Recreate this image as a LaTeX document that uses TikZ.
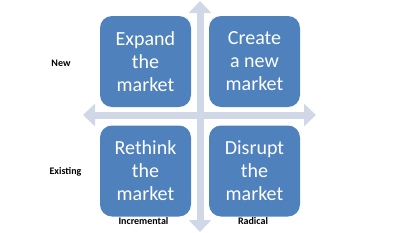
\documentclass[tikz,border=0pt]{standalone}
\usepackage{fontspec}
\setmainfont{Carlito}
\usetikzlibrary{arrows.meta}
\definecolor{boxblue}{HTML}{4F81BD}
\definecolor{axisgray}{HTML}{D0D8E8}
\tikzset{
  quad/.style={fill=boxblue, rounded corners=12pt, minimum width=91pt, minimum height=91pt,
    text=white, align=center, font=\fontsize{20}{23}\selectfont, inner sep=0pt},
  axislabel/.style={font=\fontsize{10}{12}\selectfont\bfseries, inner sep=0pt},
  axis/.style={axisgray, line width=7pt, {Triangle[width=22pt,length=12pt]}-{Triangle[width=22pt,length=12pt]}}
}
\begin{document}
\begin{tikzpicture}[x=1pt, y=-1pt]
      \useasboundingbox (0,0) rectangle (400,233);

      \begin{scope}[name prefix = end-]
         \coordinate (top) at (200, 1);
         \coordinate (bottom) at (200, 232);
         \coordinate (left) at (83, 115);
         \coordinate (right) at (316, 115);
      \end{scope}

      \begin{scope}
         \draw[axis] (end-bottom) -- (end-top);
         \draw[axis] (end-left) -- (end-right);
      \end{scope}

      \begin{scope}[name prefix = quad-]
         \node[quad] (expand) at (145.5, 61.5) {Expand\\the\\market};
         \node[quad] (create) at (254.5, 61.5) {Create\\a new\\market};
         \node[quad] (rethink) at (145.5, 171) {Rethink\\the\\market};
         \node[quad] (disrupt) at (254.5, 171) {Disrupt\\the\\market};
      \end{scope}

      \begin{scope}[name prefix = label-]
         \node[axislabel] (new) at (61, 63) {New};
         \node[axislabel] (existing) at (65.5, 172) {Existing};
         \node[axislabel] (incremental) at (143.5, 221) {Incremental};
         \node[axislabel] (radical) at (253, 221) {Radical};
      \end{scope}
   \end{tikzpicture}
\end{document}
